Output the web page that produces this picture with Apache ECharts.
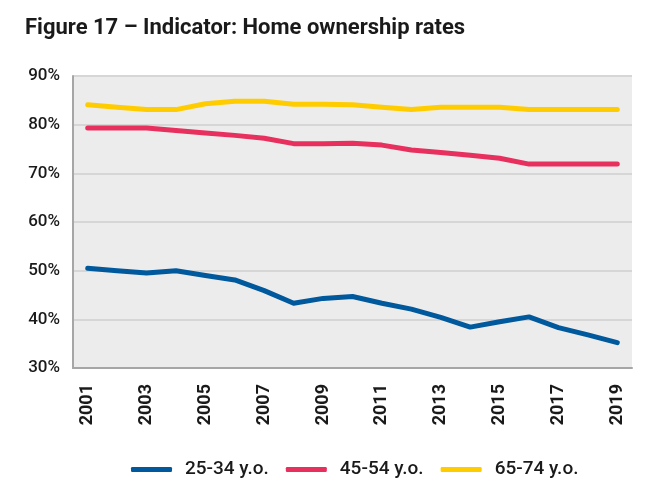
<!DOCTYPE html>
<html><head><meta charset="utf-8">
<script src="https://cdn.jsdelivr.net/npm/echarts@6/dist/echarts.min.js"></script>
<style>html,body{margin:0;padding:0;background:#fff}#c{width:650px;height:499px}</style>
</head><body><div id="c"></div>
<script>
const years = ['2001','2002','2003','2004','2005','2006','2007','2008','2009','2010','2011','2012','2013','2014','2015','2016','2017','2018','2019'];
const age25_34 = [50.5,50.0,49.5,50.0,49.0,48.1,45.9,43.3,44.3,44.7,43.3,42.1,40.4,38.4,39.5,40.5,38.3,36.8,35.2];
const age45_54 = [79.3,79.3,79.3,78.8,78.3,77.8,77.2,76.1,76.1,76.2,75.8,74.8,74.3,73.7,73.1,71.9,71.9,71.9,71.9];
const age65_74 = [84.1,83.6,83.1,83.1,84.3,84.8,84.8,84.2,84.2,84.1,83.6,83.1,83.6,83.6,83.6,83.1,83.1,83.1,83.1];
const seriesNames = ['25-34 y.o.','45-54 y.o.','65-74 y.o.'];
const colors = ['#00599c','#e8305f','#ffcc00'];

const chart = echarts.init(document.getElementById('c'), null, {renderer:'canvas'});
const mk = (name, data, color) => ({
  name, type:'line', data, symbol:'none', smooth:false,
  lineStyle:{width:5, color, cap:'round', join:'round'}, itemStyle:{color}
});
chart.setOption({
  animation:false,
  backgroundColor:'#fff',
  title:{text:'Figure 17 – Indicator: Home ownership rates', left:20, top:12,
    textStyle:{fontFamily:'Roboto', fontWeight:'bold', fontSize:22, color:'#1a1a1a'}},
  grid:{left:73, right:18, top:76, bottom:131, show:true, backgroundColor:'#ececec', borderWidth:0},
  legend:{top:455, left:126, itemWidth:41, itemHeight:5, itemGap:17,
    icon:'roundRect',
    textStyle:{fontFamily:'Roboto', fontWeight:500, fontSize:19, color:'#1a1a1a', padding:[0,0,0,8]},
    data:seriesNames},
  xAxis:{type:'category', data:years, boundaryGap:true,
    axisLine:{lineStyle:{color:'#a6a6a6', width:2}}, axisTick:{show:false},
    axisLabel:{rotate:90, interval:1, margin:16, fontFamily:'Roboto', fontWeight:'bold', fontSize:18, color:'#1a1a1a'}},
  yAxis:{type:'value', min:30, max:90, interval:10,
    axisLine:{show:true, lineStyle:{color:'#a6a6a6', width:2}}, axisTick:{show:false},
    splitLine:{lineStyle:{color:'#d6d6d6', width:2}},
    axisLabel:{formatter:'{value}%', margin:13, fontFamily:'Roboto', fontWeight:500, fontSize:17, color:'#1a1a1a'}},
  series:[mk(seriesNames[0],age25_34,colors[0]), mk(seriesNames[1],age45_54,colors[1]), mk(seriesNames[2],age65_74,colors[2])]
});
</script></body></html>
